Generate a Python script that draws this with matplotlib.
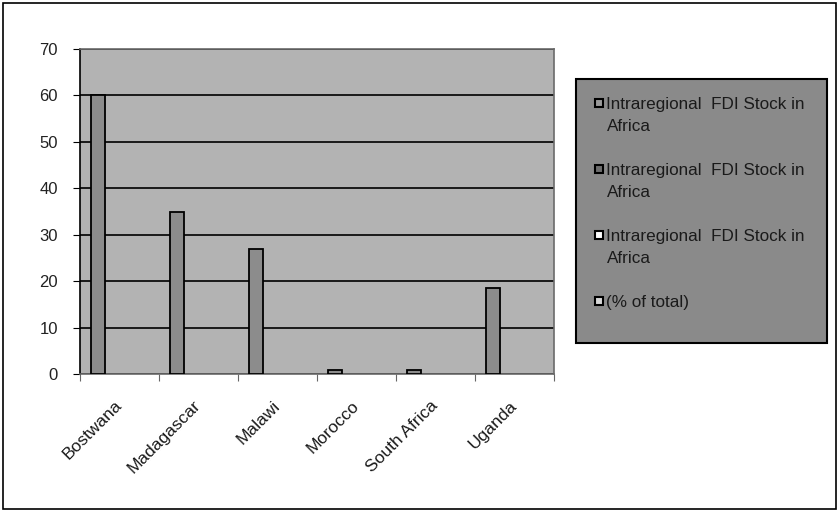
import matplotlib.pyplot as plt
import matplotlib.patches as mpatches
import numpy as np

plt.rcParams['font.family'] = ['Liberation Sans', 'DejaVu Sans']

# data
countries = ['Bostwana', 'Madagascar', 'Malawi', 'Morocco', 'South Africa', 'Uganda']
fdi_stock = [60, 35, 27, 0.8, 0.8, 18.5]
legend_labels = ['Intraregional  FDI Stock in\nAfrica',
                 'Intraregional  FDI Stock in\nAfrica',
                 'Intraregional  FDI Stock in\nAfrica',
                 '(% of total)']
legend_colors = ['#9a9a9a', '#6e6e6e', '#ffffff', '#d8d8d8']
yticks = [0, 10, 20, 30, 40, 50, 60, 70]

W, H = 839, 512
fig = plt.figure(figsize=(W / 100, H / 100), dpi=100)
fig.patch.set_facecolor('white')
# outer chart border
fig.add_artist(mpatches.Rectangle((0.004, 0.006), 0.992, 0.988, transform=fig.transFigure,
                                  fill=False, edgecolor='black', linewidth=1.2))

ax = fig.add_axes([80 / W, 1 - 374 / H, 474 / W, 325 / H])
ax.set_facecolor('#b3b3b3')

# Excel-style clustered bars: 4 series, gap 150%, only the first series has values
n_series = 4
gap = 1.5
bw = 1 / (n_series + gap)
x = np.arange(len(countries))
pos = x - (n_series * bw) / 2 + bw / 2
ax.bar(pos, fdi_stock, width=bw, color='#8c8c8c', edgecolor='black', linewidth=1.3, zorder=3)

ax.set_xlim(-0.5, len(countries) - 0.5)
ax.set_ylim(0, 70)
ax.set_yticks(yticks)
ax.grid(axis='y', color='black', linewidth=1.2, zorder=1)
ax.set_xticks(np.arange(len(countries) + 1) - 0.5)
ax.set_xticklabels([])
ax.set_xticks(x, minor=True)
ax.set_xticklabels(countries, minor=True, rotation=45, ha='right', va='center',
                   rotation_mode='anchor', fontsize=12.5, color='#1a1a1a')
ax.tick_params(axis='x', which='minor', length=0, pad=21)
ax.tick_params(axis='x', which='major', length=5, color='#666666', direction='out')
ax.tick_params(axis='y', length=5, color='black', labelsize=12, pad=11, labelcolor='#222222')

for side in ['top', 'right', 'bottom']:
    ax.spines[side].set_color('#6a6a6a')
    ax.spines[side].set_linewidth(1.2)
ax.spines['left'].set_linewidth(1.2)

# legend box, drawn like the Excel one
def fx(px):
    return px / W

def fy(px):
    return 1 - px / H

fig.add_artist(mpatches.Rectangle((fx(576), fy(343)), fx(827) - fx(576), fy(79) - fy(343),
                                  transform=fig.transFigure, facecolor='#8a8a8a',
                                  edgecolor='black', linewidth=1.5))
entry_y = [103, 169, 235, 301]
for ey, lab, col in zip(entry_y, legend_labels, legend_colors):
    fig.add_artist(mpatches.Rectangle((fx(595), fy(ey + 4)), 8 / W, 8 / H,
                                      transform=fig.transFigure, facecolor=col,
                                      edgecolor='black', linewidth=1.5))
    for i, line in enumerate(lab.split('\n')):
        fig.text(fx(606 if i == 0 else 607), fy(ey + 6 + 22 * i), line, fontsize=12.3,
                 va='baseline', ha='left', color='#1a1a1a')

plt.savefig('out.png', dpi=100)
